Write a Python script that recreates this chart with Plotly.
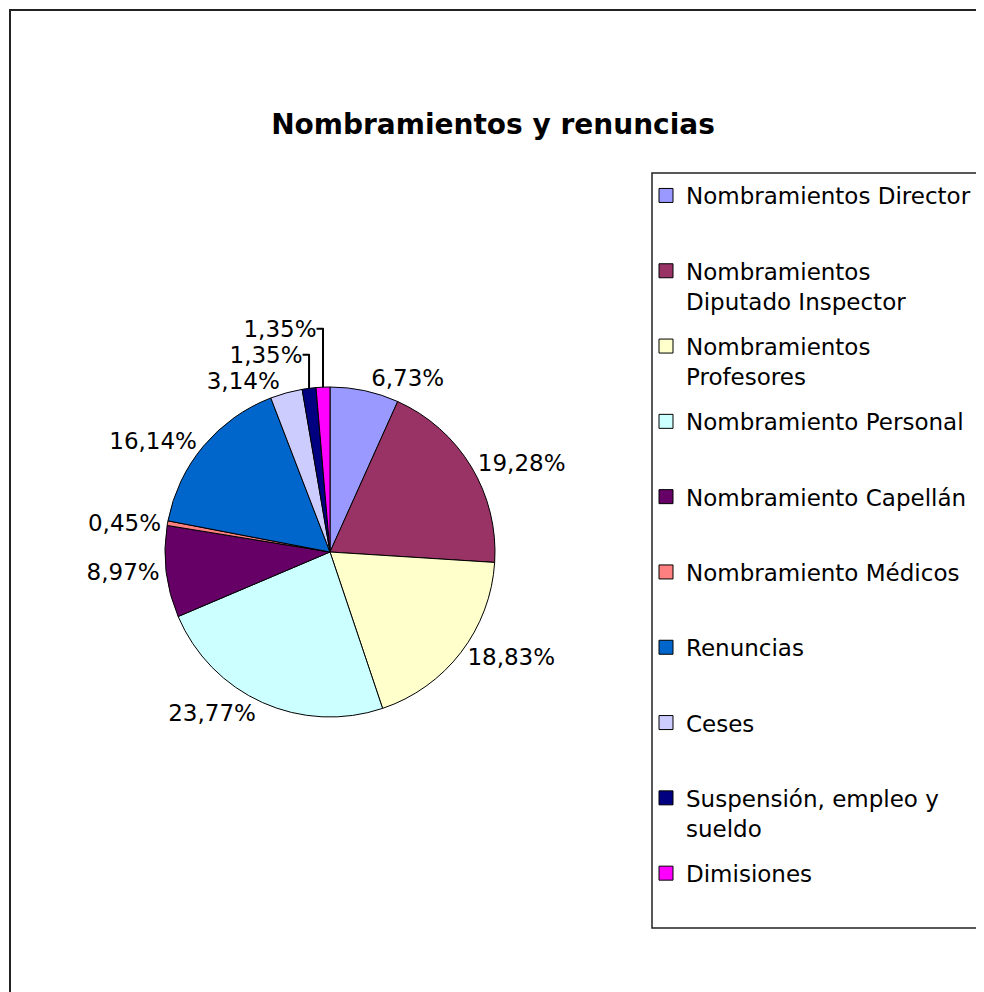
import plotly.graph_objects as go

# ---- data ----
categories = [
    "Nombramientos Director",
    "Nombramientos Diputado Inspector",
    "Nombramientos Profesores",
    "Nombramiento Personal",
    "Nombramiento Capellán",
    "Nombramiento Médicos",
    "Renuncias",
    "Ceses",
    "Suspensión, empleo y sueldo",
    "Dimisiones",
]
legend_labels = [
    "Nombramientos Director",
    "Nombramientos<br>Diputado Inspector",
    "Nombramientos<br>Profesores",
    "Nombramiento Personal",
    "Nombramiento Capellán",
    "Nombramiento Médicos",
    "Renuncias",
    "Ceses",
    "Suspensión, empleo y<br>sueldo",
    "Dimisiones",
]
percentages = [6.73, 19.28, 18.83, 23.77, 8.97, 0.45, 16.14, 3.14, 1.35, 1.35]
colors = ["#9999FF", "#993366", "#FFFFCC", "#CCFFFF", "#660066",
          "#FF8080", "#0066CC", "#CCCCFF", "#000080", "#FF00FF"]

# page has an 8px body margin; figure fills the rest of the window
W, H = 976, 984
FONT = "DejaVu Sans"

def px(x):
    return x / W

def py(y):
    return 1 - y / H

pct_text = [f"{v:.2f}".replace(".", ",") + "%" for v in percentages]

fig = go.Figure()

# pie centre / radius in figure pixels
cx, cy, r = 322, 544, 165
fig.add_trace(go.Pie(
    labels=categories,
    values=percentages,
    text=pct_text,
    textinfo="text",
    textposition="outside",
    sort=False,
    direction="clockwise",
    rotation=0,
    marker=dict(colors=colors, line=dict(color="black", width=1)),
    outsidetextfont=dict(family=FONT, size=23, color="black"),
    showlegend=False,
    hoverinfo="label+percent",
    domain=dict(x=[px(cx - r), px(cx + r)], y=[py(cy + r), py(cy - r)]),
))

# legend entries (same colours / labels as the slices)
for i, (lab, col) in enumerate(zip(legend_labels, colors)):
    if "<br>" not in lab:
        lab = lab + "<br>\u00a0"
    fig.add_trace(go.Scatter(
        x=[None], y=[None], mode="markers", name=lab,
        legendgroup=f"g{i}",
        marker=dict(symbol="square", size=14, color=col, line=dict(color="black", width=1)),
        showlegend=True, hoverinfo="skip",
    ))

fig.update_layout(
    width=W, height=H,
    margin=dict(l=0, r=0, t=0, b=0, autoexpand=False),
    paper_bgcolor="white", plot_bgcolor="white",
    font=dict(family=FONT, color="black"),
    title=dict(text="<b>Nombramientos y renuncias</b>", x=px(485), y=py(116),
               xanchor="center", yanchor="middle",
               font=dict(family=FONT, size=28, color="black")),
    xaxis=dict(visible=False), yaxis=dict(visible=False),
    legend=dict(
        x=px(638), y=py(166), xanchor="left", yanchor="top",
        borderwidth=0, bgcolor="rgba(0,0,0,0)",
        font=dict(family=FONT, size=23, color="black"),
        traceorder="grouped", tracegroupgap=12.5, valign="top",
        itemwidth=30,
    ),
    shapes=[
        # chart area border
        dict(type="rect", xref="paper", yref="paper",
             x0=px(2), x1=px(1100), y0=py(1100), y1=py(2),
             line=dict(color="#222222", width=2), layer="below"),
        # legend box
        dict(type="rect", xref="paper", yref="paper",
             x0=px(644), x1=px(1100), y0=py(920), y1=py(165),
             line=dict(color="#222222", width=1.5), layer="below"),
    ],
)

fig.write_html("out.html")
